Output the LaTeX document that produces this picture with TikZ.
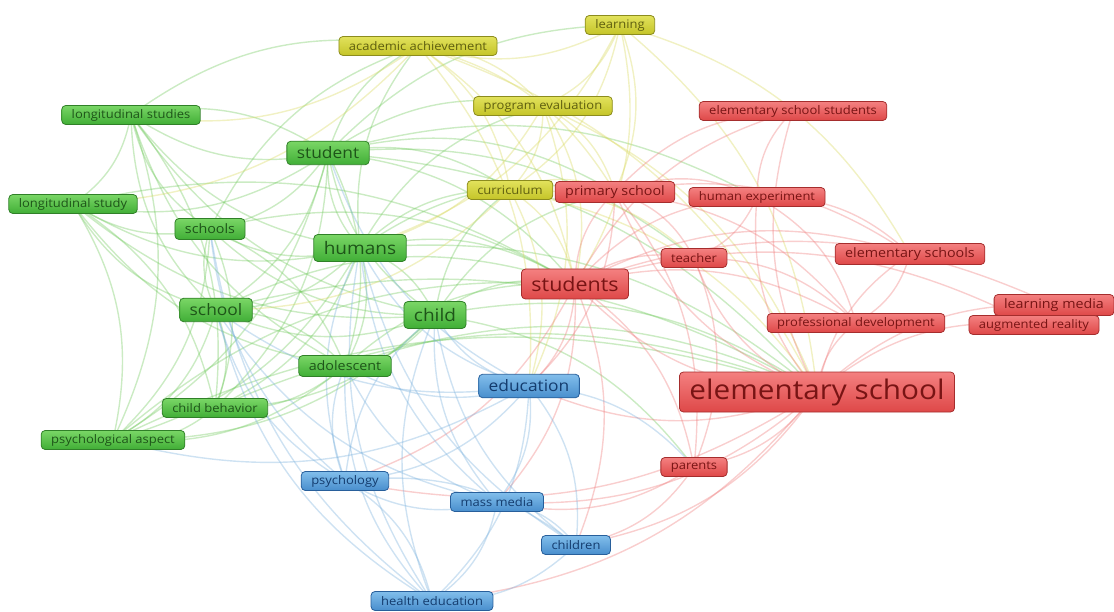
\documentclass[tikz,border=0pt]{standalone}
\usepackage{fontspec}
\setmainfont{Open Sans}[FakeStretch=1.1]
\usepackage{tikz}

\definecolor{gtop}{RGB}{122,214,102}
\definecolor{gbot}{RGB}{64,174,54}
\definecolor{gline}{RGB}{48,128,40}
\definecolor{gtext}{RGB}{30,85,25}
\definecolor{rtop}{RGB}{244,128,128}
\definecolor{rbot}{RGB}{222,72,72}
\definecolor{rline}{RGB}{165,45,45}
\definecolor{rtext}{RGB}{120,20,20}
\definecolor{ytop}{RGB}{226,226,92}
\definecolor{ybot}{RGB}{196,196,40}
\definecolor{yline}{RGB}{140,140,30}
\definecolor{ytext}{RGB}{95,95,15}
\definecolor{btop}{RGB}{130,190,235}
\definecolor{bbot}{RGB}{72,142,205}
\definecolor{bline}{RGB}{40,95,155}
\definecolor{btext}{RGB}{20,60,110}
\definecolor{gedge}{RGB}{110,200,90}
\definecolor{redge}{RGB}{238,120,120}
\definecolor{yedge}{RGB}{215,215,90}
\definecolor{bedge}{RGB}{120,175,220}

\pgfdeclarelayer{background}
\pgfsetlayers{background,main}

\begin{document}
\begin{tikzpicture}[x=1pt,y=-1pt]
\tikzset{kw/.style={rectangle,rounded corners=4pt,line width=0.8pt,inner xsep=10pt,inner ysep=0pt},
  gkw/.style={kw,draw=gline,top color=gtop,bottom color=gbot,text=gtext},
  rkw/.style={kw,draw=rline,top color=rtop,bottom color=rbot,text=rtext},
  ykw/.style={kw,draw=yline,top color=ytop,bottom color=ybot,text=ytext},
  bkw/.style={kw,draw=bline,top color=btop,bottom color=bbot,text=btext},
  fsa/.style={font=\fontsize{11.8}{13}\selectfont,minimum height=19pt},
  fsb/.style={font=\fontsize{13}{15}\selectfont,minimum height=21pt},
  fsc/.style={font=\fontsize{15.8}{18}\selectfont,minimum height=23.5pt},
  fsd/.style={font=\fontsize{17.3}{20}\selectfont,minimum height=27pt},
  fse/.style={font=\fontsize{19.5}{22}\selectfont,minimum height=30pt},
  fsf/.style={font=\fontsize{27}{30}\selectfont,minimum height=40pt},
  link/.style={line width=1.4pt,opacity=0.36}}
\useasboundingbox (0,0) rectangle (1114,612);

% yellow cluster
\node[ykw,fsa] (learning) at (620,25) {learning};
\node[ykw,fsa] (acadach) at (418,46) {academic achievement};
\node[ykw,fsa] (progeval) at (543,106) {program evaluation};
\node[ykw,fsa] (curriculum) at (510,190) {curriculum};

% green cluster
\node[gkw,fsa] (longstudies) at (131,115) {longitudinal studies};
\node[gkw,fsa] (longstudy) at (73,204) {longitudinal study};
\node[gkw,fsc] (student) at (328,153) {student};
\node[gkw,fsb] (schools) at (210,229) {schools};
\node[gkw,fsd] (humans) at (360,248) {humans};
\node[gkw,fsc] (school) at (216,310) {school};
\node[gkw,fsd] (child) at (435,315) {child};
\node[gkw,fsb] (adolescent) at (345,366) {adolescent};
\node[gkw,fsa] (childbeh) at (215,408) {child behavior};
\node[gkw,fsa] (psychasp) at (113,440) {psychological aspect};

% blue cluster
\node[bkw,fsc] (education) at (529,386) {education};
\node[bkw,fsa] (psychology) at (345,481) {psychology};
\node[bkw,fsa] (massmedia) at (497,502) {mass media};
\node[bkw,fsa] (children) at (576,545) {children};
\node[bkw,fsa] (healthed) at (432,601) {health education};

% red cluster
\node[rkw,fsa] (elemstud) at (793,111) {elementary school students};
\node[rkw,fsb] (primary) at (615,192) {primary school};
\node[rkw,fsa] (humanexp) at (757,197) {human experiment};
\node[rkw,fsa] (teacher) at (694,258) {teacher};
\node[rkw,fsb] (elemschools) at (910,254) {elementary schools};
\node[rkw,fse] (students) at (575,284) {students};
\node[rkw,fsb] (learnmedia) at (1054,305) {learning media};
\node[rkw,fsa] (profdev) at (856,323) {professional development};
\node[rkw,fsa] (augreal) at (1034,325) {augmented reality};
\node[rkw,fsf] (elemschool) at (817,392) {elementary school};
\node[rkw,fsa] (parents) at (694,467) {parents};

\begin{pgfonlayer}{background}
% links, centre to centre
\foreach \a/\b in {humans/student,humans/schools,humans/school,humans/child,humans/adolescent,
  humans/longstudies,humans/longstudy,humans/childbeh,humans/psychasp,humans/students,
  humans/primary,humans/elemschool,humans/curriculum,humans/acadach,humans/progeval,
  child/student,child/school,child/schools,child/adolescent,child/longstudies,child/longstudy,
  child/childbeh,child/psychasp,child/elemschool,child/students,child/curriculum,child/parents,
  child/primary,student/school,student/schools,student/adolescent,student/longstudies,
  student/longstudy,student/psychasp,student/childbeh,student/students,student/primary,
  student/elemschool,student/curriculum,student/acadach,student/progeval,student/learning,
  student/humanexp,student/teacher,school/schools,school/adolescent,school/longstudies,
  school/longstudy,school/childbeh,school/psychasp,school/elemschool,school/students,
  schools/adolescent,schools/longstudies,schools/longstudy,schools/psychasp,schools/childbeh,
  schools/acadach,schools/students,adolescent/longstudies,adolescent/longstudy,
  adolescent/childbeh,adolescent/psychasp,adolescent/elemschool,adolescent/students,
  longstudies/longstudy,longstudies/psychasp,longstudies/childbeh,longstudies/acadach,
  longstudies/student,longstudy/psychasp,longstudy/childbeh,longstudy/students,
  childbeh/psychasp,childbeh/elemschool,psychasp/elemschool,psychasp/students}
  \draw[link,gedge] (\a.center) to[bend left=22] (\b.center);
\foreach \a/\b in {learning/students,learning/primary,learning/curriculum,learning/acadach,
  learning/elemschool,learning/humans,learning/progeval,learning/elemschools,acadach/students,
  acadach/primary,acadach/progeval,acadach/curriculum,acadach/elemschool,acadach/education,
  acadach/longstudy,acadach/longstudies,progeval/students,progeval/curriculum,progeval/primary,
  progeval/elemschool,progeval/education,progeval/humans,curriculum/students,curriculum/primary,
  curriculum/elemschool,curriculum/education,curriculum/teacher,curriculum/school}
  \draw[link,yedge] (\a.center) to[bend left=22] (\b.center);
\foreach \a/\b in {elemschool/students,elemschool/primary,elemschool/teacher,elemschool/humanexp,
  elemschool/elemstud,elemschool/elemschools,elemschool/profdev,elemschool/augreal,
  elemschool/learnmedia,elemschool/parents,elemschool/education,elemschool/children,
  elemschool/massmedia,elemschool/psychology,elemschool/healthed,students/primary,
  students/teacher,students/humanexp,students/elemstud,students/elemschools,students/profdev,
  students/augreal,students/learnmedia,students/parents,students/education,students/children,
  students/massmedia,students/psychology,primary/teacher,primary/humanexp,primary/elemstud,
  primary/elemschools,primary/profdev,primary/parents,primary/education,humanexp/teacher,
  humanexp/elemschools,humanexp/profdev,humanexp/elemstud,teacher/profdev,teacher/parents,
  augreal/learnmedia,elemschools/profdev,parents/children,parents/massmedia}
  \draw[link,redge] (\a.center) to[bend left=22] (\b.center);
\foreach \a/\b in {education/massmedia,education/children,education/psychology,
  education/healthed,education/parents,education/humans,education/child,education/student,
  education/school,education/adolescent,education/psychasp,massmedia/children,
  massmedia/psychology,massmedia/healthed,massmedia/humans,massmedia/child,
  massmedia/adolescent,massmedia/school,psychology/healthed,psychology/children,
  psychology/humans,psychology/child,psychology/school,psychology/adolescent,
  psychology/schools,children/healthed,children/child,children/humans,healthed/school,
  healthed/humans,healthed/child,healthed/adolescent,healthed/schools}
  \draw[link,bedge] (\a.center) to[bend left=22] (\b.center);
\end{pgfonlayer}
\end{tikzpicture}
\end{document}
